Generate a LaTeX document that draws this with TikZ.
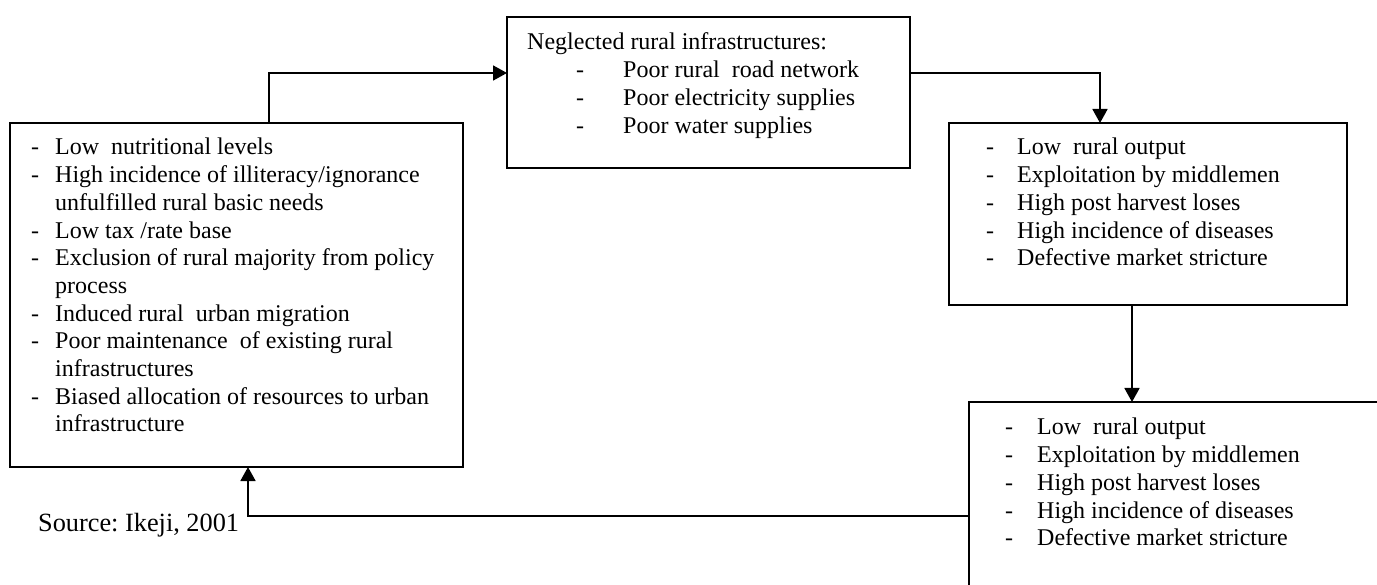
\documentclass[tikz,border=0pt]{standalone}
\usepackage{fontspec}
\setmainfont[Ligatures=NoCommon]{Liberation Serif}
\usetikzlibrary{arrows.meta}
\frenchspacing
\tikzset{
  box/.style={draw, line width=2pt, inner sep=0pt, outer sep=0pt, anchor=north west},
  txt/.style={inner sep=0pt, anchor=base west, font=\fontsize{24}{27.7}\selectfont},
  conn/.style={line width=1.8pt, -{Triangle[length=14pt,width=15pt]}},
}
\begin{document}
\begin{tikzpicture}[x=1pt,y=-1pt]
\useasboundingbox (0,0) rectangle (1377,585);
\clip (0,0) rectangle (1377,585);
% boxes
\node[box, minimum width=453pt, minimum height=344pt] (lbox) at (10,123) {};
\node[box, minimum width=403pt, minimum height=151pt] (tbox) at (507,17) {};
\node[box, minimum width=398pt, minimum height=182pt] (rbox) at (949,123) {};
\node[box, minimum width=500pt, minimum height=300pt] (bbox) at (969,402) {};
% texts
\node[txt] (ltext) at (31,155) {\begin{tabular}[t]{@{}p{24pt}@{}l@{}}
-& Low\ \ nutritional levels\\
-& High incidence of illiteracy/ignorance\\
 & unfulfilled rural basic needs\\
-& Low tax /rate base\\
-& Exclusion of rural majority from policy\\
 & process\\
-& Induced rural\ \ urban migration\\
-& Poor maintenance\ \ of existing rural\\
 & infrastructures\\
-& Biased allocation of resources to urban\\
 & infrastructure
\end{tabular}};
\node[txt] (ttitle) at (527,50) {Neglected rural infrastructures:};
\node[txt] (tlist) at (576,78) {\begin{tabular}[t]{@{}p{47pt}@{}l@{}}
-& Poor rural\ \ road network\\
-& Poor electricity supplies\\
-& Poor water supplies
\end{tabular}};
\node[txt] (rtext) at (986,155) {\begin{tabular}[t]{@{}p{31pt}@{}l@{}}
-& Low\ \ rural output\\
-& Exploitation by middlemen\\
-& High post harvest loses\\
-& High incidence of diseases\\
-& Defective market stricture
\end{tabular}};
\node[txt] (btext) at (1005,435) {\begin{tabular}[t]{@{}p{32pt}@{}l@{}}
-& Low\ \ rural output\\
-& Exploitation by middlemen\\
-& High post harvest loses\\
-& High incidence of diseases\\
-& Defective market stricture
\end{tabular}};
\node[txt, font=\fontsize{26.3}{30}\selectfont] (src) at (38,531) {Source: Ikeji, 2001};
% connectors
\draw[conn] ([xshift=259pt]lbox.north west) |- ([yshift=-56pt]tbox.north west);
\draw[conn] ([yshift=-56pt]tbox.north east) -| ([xshift=151pt]rbox.north west);
\draw[conn] ([xshift=183pt]rbox.south west) -- ([xshift=163pt]bbox.north west);
\draw[conn] ([yshift=-114pt]bbox.north west) -| ([xshift=238pt]lbox.south west);
\end{tikzpicture}
\end{document}
